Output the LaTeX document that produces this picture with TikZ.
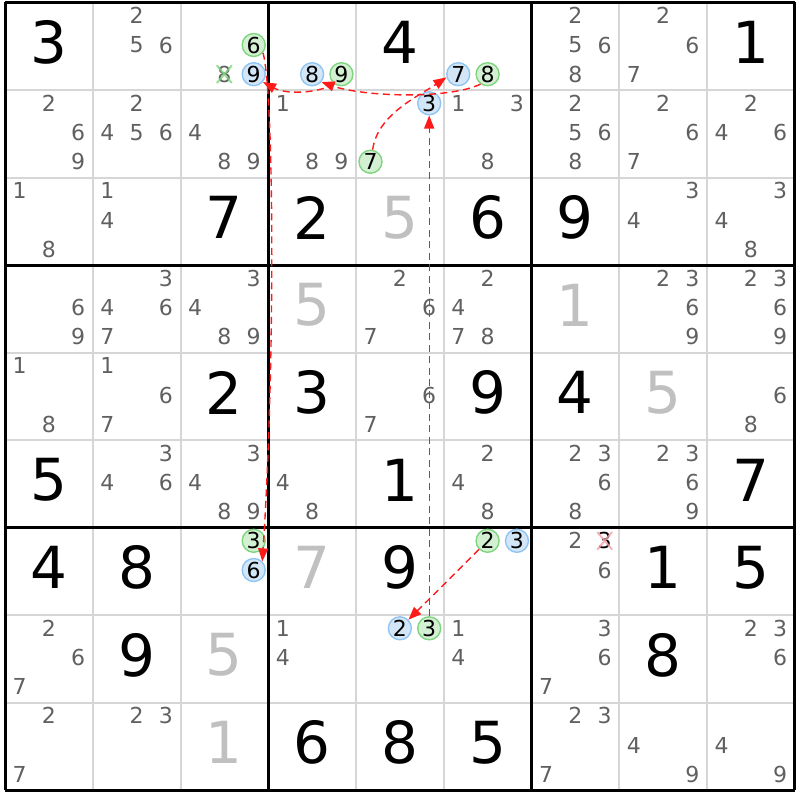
\documentclass[tikz,border=0pt]{standalone}
\usepackage{fontspec}
\setmainfont{DejaVu Sans}
\usetikzlibrary{arrows.meta}

\definecolor{candgray}{HTML}{606060}
\definecolor{solvedgray}{HTML}{C0C0C0}
\definecolor{gridgray}{HTML}{D6D6D6}
\definecolor{onfill}{HTML}{D3F0D3}
\definecolor{ondraw}{HTML}{80D480}
\definecolor{offfill}{HTML}{D2E6F8}
\definecolor{offdraw}{HTML}{90C4F2}
\definecolor{linkred}{HTML}{FF1A1A}
\definecolor{crossred}{HTML}{F4A0A8}
\definecolor{crossgreen}{HTML}{7CD47C}

\begin{document}
\begin{tikzpicture}[x=1pt, y=-1pt,
  incell/.style 2 args={at={({5+(#2-0.5)*87.75},{-1+(#1-0.5)*87.5})}},
  spot/.style n args={3}{at={({5+(#2-1)*87.75+14.5+29.35*mod(#3-1,3)},{2.5+(#1-1)*87.5+13.3+29.2*floor((#3-1)/3)})}},
  given/.style={inner sep=0pt, font=\fontsize{58}{58}\selectfont},
  solved/.style={given, text=solvedgray},
  cand/.style={inner sep=0pt, text=candgray, font=\fontsize{22}{22}\selectfont},
  oncand/.style={circle, draw=ondraw, fill=onfill, line width=1.4pt, minimum size=23pt, inner sep=0pt, font=\fontsize{22}{22}\selectfont},
  offcand/.style={oncand, draw=offdraw, fill=offfill},
  gridline/.style={gridgray, line width=2pt},
  boxline/.style={black, line width=3pt},
  link/.style={linkred, line width=1.4pt, dash pattern=on 7pt off 4.5pt, -{Triangle[length=13pt, width=10pt]}},
  cross/.style={line width=2pt, line cap=round}]
  \useasboundingbox (0,0) rectangle (800,800);

  % grid
  \foreach \i in {1,2,4,5,7,8} {
    \draw[gridline] ({5+\i*87.75},2.5) -- ({5+\i*87.75},790);
    \draw[gridline] (5,{2.5+\i*87.5}) -- (794.75,{2.5+\i*87.5});
  }
  \foreach \i in {0,3,6,9} {
    \draw[boxline] ({5+\i*87.75},2.5) -- ({5+\i*87.75},790);
    \draw[boxline] (5,{2.5+\i*87.5}) -- (794.75,{2.5+\i*87.5});
  }

  % givens and solved cells
  \foreach \r/\c/\v in {1/1/3, 1/5/4, 1/9/1, 3/3/7, 3/4/2, 3/6/6, 3/7/9, 5/3/2, 5/4/3, 5/6/9,
      5/7/4, 6/1/5, 6/5/1, 6/9/7, 7/1/4, 7/2/8, 7/5/9, 7/8/1, 7/9/5, 8/2/9, 8/8/8, 9/4/6, 9/5/8, 9/6/5}
    \node[given, incell={\r}{\c}] (g\r\c) {\v};
  \foreach \r/\c/\v in {3/5/5, 4/4/5, 4/7/1, 5/8/5, 7/4/7, 8/3/5, 9/3/1}
    \node[solved, incell={\r}{\c}] (s\r\c) {\v};

  % pencil marks
  \foreach \r/\c/\ds in {1/2/{2,5,6}, 1/3/{8}, 1/7/{2,5,6,8}, 1/8/{2,6,7},
      2/1/{2,6,9}, 2/2/{2,4,5,6}, 2/3/{4,8,9}, 2/4/{1,8,9}, 2/6/{1,3,8}, 2/7/{2,5,6,8}, 2/8/{2,6,7}, 2/9/{2,4,6},
      3/1/{1,8}, 3/2/{1,4}, 3/8/{3,4}, 3/9/{3,4,8},
      4/1/{6,9}, 4/2/{3,4,6,7}, 4/3/{3,4,8,9}, 4/5/{2,6,7}, 4/6/{2,4,7,8}, 4/8/{2,3,6,9}, 4/9/{2,3,6,9},
      5/1/{1,8}, 5/2/{1,6,7}, 5/5/{6,7}, 5/9/{6,8},
      6/2/{3,4,6}, 6/3/{3,4,8,9}, 6/4/{4,8}, 6/6/{2,4,8}, 6/7/{2,3,6,8}, 6/8/{2,3,6,9},
      7/7/{2,6},
      8/1/{2,6,7}, 8/4/{1,4}, 8/6/{1,4}, 8/7/{3,6,7}, 8/9/{2,3,6},
      9/1/{2,7}, 9/2/{2,3}, 9/7/{2,3,7}, 9/8/{4,9}, 9/9/{4,9}}
    \foreach \d in \ds
      \node[cand, spot={\r}{\c}{\d}] (c\r\c\d) {\d};
  \node[cand, text=black, spot={7}{7}{3}] (c773) {3};

  % eliminations
  \draw[cross, crossgreen, opacity=0.8] (c138.north west) -- (c138.south east)
    (c138.south west) -- (c138.north east);
  \draw[cross, crossred, opacity=0.8] (c773.north west) -- (c773.south east)
    (c773.south west) -- (c773.north east);

  % chain
  \node[oncand, spot={1}{3}{6}] (r1c3d6) {6};
  \node[offcand, spot={1}{3}{9}] (r1c3d9) {9};
  \node[offcand, spot={1}{4}{8}] (r1c4d8) {8};
  \node[oncand, spot={1}{4}{9}] (r1c4d9) {9};
  \node[offcand, spot={1}{6}{7}] (r1c6d7) {7};
  \node[oncand, spot={1}{6}{8}] (r1c6d8) {8};
  \node[offcand, spot={2}{5}{3}] (r2c5d3) {3};
  \node[oncand, spot={2}{5}{7}] (r2c5d7) {7};
  \node[oncand, spot={7}{3}{3}] (r7c3d3) {3};
  \node[offcand, spot={7}{3}{6}] (r7c3d6) {6};
  \node[oncand, spot={7}{6}{2}] (r7c6d2) {2};
  \node[offcand, spot={7}{6}{3}] (r7c6d3) {3};
  \node[offcand, spot={8}{5}{2}] (r8c5d2) {2};
  \node[oncand, spot={8}{5}{3}] (r8c5d3) {3};

  \draw[link] (r1c3d6.-40) .. controls +(11,40) and +(13,-200) .. (r7c3d6.45);
  \draw[link] (r1c4d9.235) .. controls +(-20,10) and +(22,12) .. (r1c3d9.-40);
  \draw[link] (r1c6d8.235) .. controls +(-35,16) and +(40,14) .. (r1c4d8.-40);
  \draw[link] (r2c5d7.80) .. controls +(5,-35) and +(-30,20) .. (r1c6d7.195);
  \draw[link] (r8c5d3) -- (r2c5d3);
  \draw[link] (r7c6d2) -- (r8c5d2);
\end{tikzpicture}
\end{document}
